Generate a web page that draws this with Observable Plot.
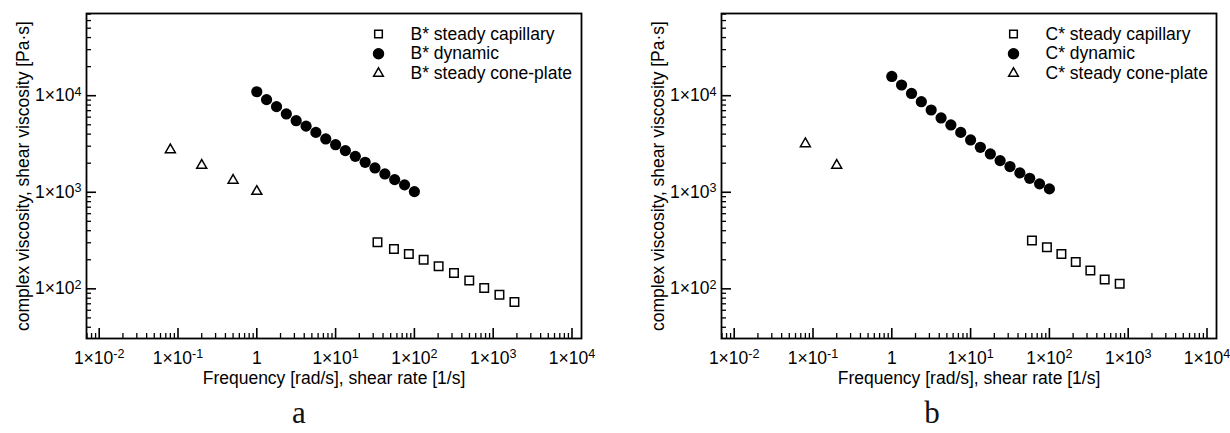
<!DOCTYPE html>
<html>
<head>
<meta charset="utf-8">
<script src="https://cdn.jsdelivr.net/npm/d3@7"></script>
<script src="https://cdn.jsdelivr.net/npm/@observablehq/plot@0.6"></script>
<style>
  html, body { margin: 0; padding: 0; background: white; }
  #wrap { position: relative; width: 1230px; height: 433px; overflow: hidden; background: white; }
  .panel { position: absolute; top: 0; }
  .letter { position: absolute; top: 397px; font-family: "Liberation Serif", "DejaVu Serif", serif; font-size: 31px; line-height: 31px; transform: translateX(-50%); color: #111; }
</style>
</head>
<body>
<div id="wrap">
  <div id="pa" class="panel" style="left:0px"></div>
  <div id="pb" class="panel" style="left:615px"></div>
  <div class="letter" style="left:299px">a</div>
  <div class="letter" style="left:932px">b</div>
</div>
<script>
// ---- axis ticks ----
const xMajorTicks = [1e-2, 1e-1, 1, 1e1, 1e2, 1e3, 1e4];
const xTickLabels = ["1×10^-2", "1×10^-1", "1", "1×10^1", "1×10^2", "1×10^3", "1×10^4"];
const yMajorTicks = [1e2, 1e3, 1e4];
const yTickLabels = ["1×10^2", "1×10^3", "1×10^4"];
const xDomain = [0.0069, 13200];
const yDomain = [30.6, 71000];

const xTitle = "Frequency [rad/s], shear rate [1/s]";
const yTitle = "complex viscosity, shear viscosity [Pa·s]";

// ---- panel a: B* ----
const bLegend = ["B* steady capillary", "B* dynamic", "B* steady cone-plate"];
const bCapX = [34, 55, 85, 131, 203, 318, 497, 769, 1200, 1860];
const bCapY = [303, 259, 230, 200, 171, 146, 122, 102, 87, 73];
const bDynX = [1, 1.33, 1.78, 2.37, 3.16, 4.22, 5.62, 7.5, 10, 13.3, 17.8, 23.7, 31.6, 42.2, 56.2, 75, 100];
const bDynY = [10990, 9100, 7700, 6470, 5510, 4840, 4170, 3565, 3110, 2700, 2355, 2044, 1787, 1549, 1353, 1193, 1016];
const bConeX = [0.08, 0.2, 0.5, 1];
const bConeY = [2750, 1900, 1330, 1020];

// ---- panel b: C* ----
const cLegend = ["C* steady capillary", "C* dynamic", "C* steady cone-plate"];
const cCapX = [60, 93, 142, 216, 331, 503, 780];
const cCapY = [316, 269, 230, 190, 155, 125, 113];
const cDynX = [1, 1.33, 1.78, 2.37, 3.16, 4.22, 5.62, 7.5, 10, 13.3, 17.8, 23.7, 31.6, 42.2, 56.2, 75, 100];
const cDynY = [15830, 12900, 10560, 8670, 7110, 5880, 4980, 4170, 3480, 2920, 2495, 2128, 1845, 1588, 1396, 1222, 1084];
const cConeX = [0.08, 0.2];
const cConeY = [3180, 1900];

const FONT = '"Liberation Sans", Arial, Helvetica, sans-serif';
const W = 615, H = 395, MT = 13, MB = 57;

function minorTicks(domain) {
  return d3.scaleLog().domain(domain).ticks().filter(v => {
    const m = v / Math.pow(10, Math.floor(Math.log10(v) + 1e-9));
    return Math.abs(m - 1) > 1e-6;
  });
}

function pts(xs, ys) { return xs.map((x, i) => ({x, y: ys[i]})); }

function supify(svg) {
  svg.querySelectorAll('g[aria-label$="tick label"] text').forEach(t => {
    const s = t.textContent;
    const i = s.indexOf("^");
    if (i < 0) return;
    t.textContent = s.slice(0, i);
    const ts = document.createElementNS("http://www.w3.org/2000/svg", "tspan");
    ts.setAttribute("dy", "-0.45em");
    ts.setAttribute("font-size", "0.72em");
    ts.textContent = s.slice(i + 1);
    t.appendChild(ts);
  });
}

function panel({ml, mr, legend, cap, dyn, cone}) {
  const iw = W - ml - mr, ih = H - MT - MB;
  const symbols = ["square", "circle", "triangle"];
  const legendMarks = legend.flatMap((name, i) => [
    Plot.dot([name], {frameAnchor: "top-left", dx: 292, dy: 20.5 + i * 19.7, symbol: symbols[i],
      r: i === 1 ? 5 : (i === 0 ? 4.3 : 3.6),
      fill: i === 1 ? "black" : "white", stroke: "black", strokeWidth: 1.5}),
    Plot.text([name], {frameAnchor: "top-left", dx: 324, dy: 20.5 + i * 19.7, text: d => d,
      textAnchor: "start", lineAnchor: "middle", fontSize: 17.5, fill: "black"})
  ]);
  const svg = Plot.plot({
    width: W, height: H,
    marginLeft: ml, marginRight: mr, marginTop: MT, marginBottom: MB,
    style: {fontFamily: FONT, fontSize: "17.5px", color: "black", background: "white"},
    x: {type: "log", domain: xDomain},
    y: {type: "log", domain: yDomain},
    marks: [
      Plot.tickX(minorTicks(xDomain), {x: d => d, insetTop: ih - 5, stroke: "black", strokeWidth: 1.3}),
      Plot.tickX(xMajorTicks, {x: d => d, insetTop: ih - 10, stroke: "black", strokeWidth: 1.6}),
      Plot.tickY(minorTicks(yDomain), {y: d => d, insetRight: iw - 5, stroke: "black", strokeWidth: 1.3}),
      Plot.tickY(yMajorTicks, {y: d => d, insetRight: iw - 10, stroke: "black", strokeWidth: 1.6}),
      Plot.axisX({ticks: xMajorTicks, tickSize: 0, tickPadding: 13, fontSize: 17.5,
        tickFormat: d => xTickLabels[xMajorTicks.indexOf(d)], label: null}),
      Plot.axisY({ticks: yMajorTicks, tickSize: 0, tickPadding: 5, fontSize: 17.5,
        tickFormat: d => yTickLabels[yMajorTicks.indexOf(d)], label: null}),
      Plot.text([xTitle], {frameAnchor: "bottom", dy: 45, text: d => d, fontSize: 17.5, fill: "black"}),
      Plot.text([yTitle], {frameAnchor: "left", dx: -63, rotate: -90, text: d => d, textAnchor: "middle",
        lineAnchor: "middle", fontSize: 17.5, fill: "black"}),
      Plot.frame({stroke: "black", strokeWidth: 1.8}),
      Plot.dot(cone, {x: "x", y: "y", symbol: "triangle", r: 3.7, fill: "white", stroke: "black", strokeWidth: 1.5}),
      Plot.dot(cap, {x: "x", y: "y", symbol: "square", r: 4.8, fill: "white", stroke: "black", strokeWidth: 1.5}),
      Plot.dot(dyn, {x: "x", y: "y", symbol: "circle", r: 5.6, fill: "black", stroke: "none"}),
      ...legendMarks
    ]
  });
  supify(svg);
  return svg;
}

document.getElementById("pa").append(panel({ml: 86, mr: 34, legend: bLegend,
  cap: pts(bCapX, bCapY), dyn: pts(bDynX, bDynY), cone: pts(bConeX, bConeY)}));
document.getElementById("pb").append(panel({ml: 106, mr: 14, legend: cLegend,
  cap: pts(cCapX, cCapY), dyn: pts(cDynX, cDynY), cone: pts(cConeX, cConeY)}));
</script>
</body>
</html>
